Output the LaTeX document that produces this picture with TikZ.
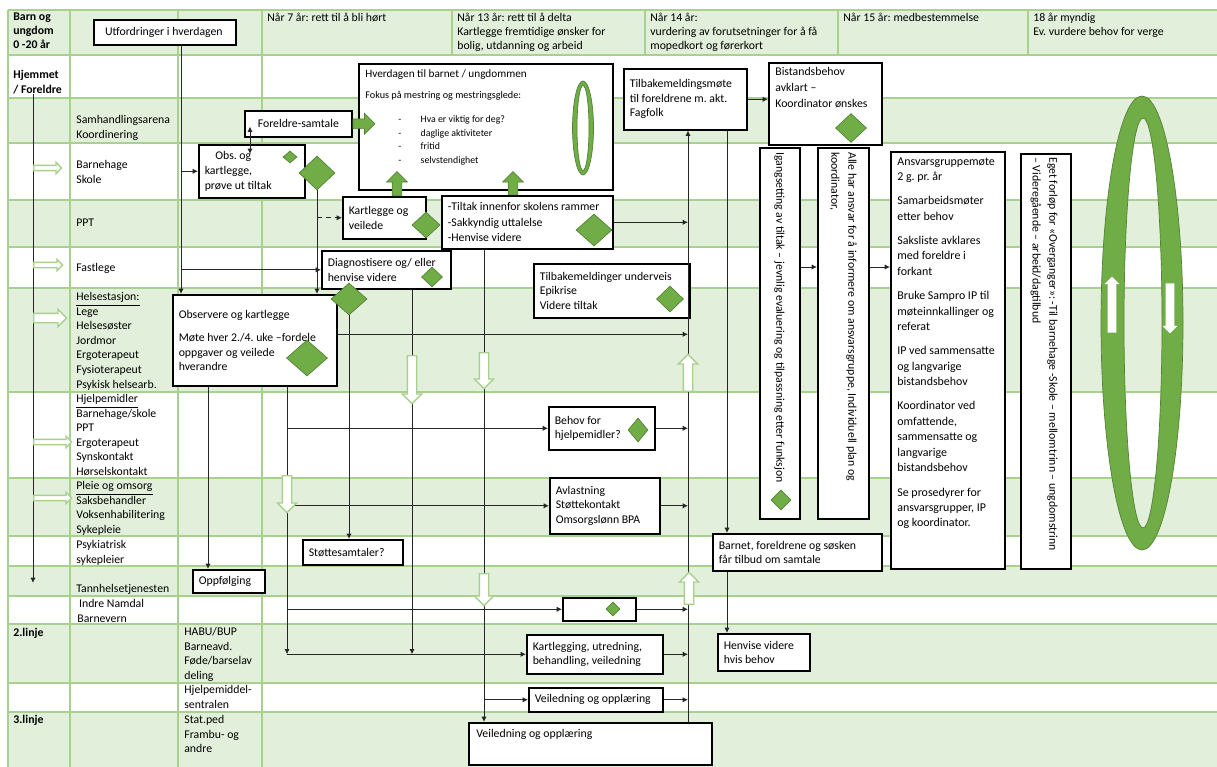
\documentclass[tikz,border=0pt]{standalone}
\usepackage{fontspec}
\setmainfont{Carlito}
\usetikzlibrary{shapes.geometric, shapes.arrows, arrows.meta}

\definecolor{radgronn}{RGB}{226,239,218}
\definecolor{linjegronn}{RGB}{169,209,142}
\definecolor{rutergronn}{RGB}{112,173,71}
\definecolor{rutekant}{RGB}{84,130,53}
\frenchspacing

\begin{document}
\begin{tikzpicture}[x=0.02cm, y=-0.02cm, >={Latex[length=3pt, width=3pt]},
  font=\fontsize{6.7}{8.3}\selectfont,
  tekst/.style = {anchor=north west, inner sep=0pt, align=flush left},
  hode/.style = {tekst, font=\fontsize{6.7}{7.9}\selectfont},
  boks/.style = {draw, line width=0.9pt, fill=white, anchor=north west, inner xsep=0.12cm, inner ysep=0pt, align=flush left},
  ruter/.style = {diamond, fill=rutergronn, draw=rutekant, line width=0.4pt, inner sep=0pt},
  pil/.style = {line width=0.55pt, black!85},
  gitter/.style = {linjegronn, line width=1.2pt},
  hulpil/.style = {single arrow, draw=linjegronn, line width=0.8pt, fill=white, inner xsep=0pt, inner ysep=0.08cm, single arrow head extend=0.1cm, anchor=tail},
  tynnpil/.style = {hulpil, inner ysep=0.04cm, single arrow head extend=0.06cm},
  blokkpil/.style = {single arrow, draw=rutekant, line width=0.4pt, fill=rutergronn, inner xsep=0pt, inner ysep=0.09cm, single arrow head extend=0.11cm, anchor=tail},
  hvitpil/.style = {single arrow, fill=white, inner xsep=0pt, inner ysep=0.08cm, single arrow head extend=0.06cm, anchor=tail}]

\fill[white] (0,0) rectangle (1217,767);
\useasboundingbox (0,0) rectangle (1217,767);

% tabellen
\foreach \ya/\yb in {10/55, 98/143, 200/247, 288/392, 478/536, 566/596, 624/683, 712/767}
  \fill[radgronn] (8,\ya) rectangle (1217,\yb);
\foreach \y in {10, 55, 98, 143, 200, 247, 288, 392, 478, 536, 566, 596, 624, 683, 712}
  \draw[gitter] (8,\y) -- (1217,\y);
\foreach \x in {8, 70, 178, 262}
  \draw[gitter] (\x,10) -- (\x,767);
\foreach \x in {452, 645, 838, 1028}
  \draw[gitter] (\x,10) -- (\x,55);

% overskrifter
\node[hode, font=\fontsize{6.7}{7.9}\selectfont\bfseries] (barn) at (13,13) {Barn og\\ungdom\\0 -20 år};
\node[hode] (aar7) at (267,13) {Når 7 år: rett til å bli hørt};
\node[hode] (aar13) at (457,13) {Når 13 år: rett til å delta\\Kartlegge fremtidige ønsker for\\bolig, utdanning og arbeid};
\node[hode] (aar14) at (650,13) {Når 14 år:\\vurdering av forutsetninger for å få\\mopedkort og førerkort};
\node[hode] (aar15) at (843,13) {Når 15 år: medbestemmelse};
\node[hode] (aar18) at (1033,13) {18 år myndig\\Ev. vurdere behov for verge};

% venstre kolonner
\node[tekst, font=\fontsize{6.7}{8.5}\selectfont\bfseries] (hjem) at (13,70) {Hjemmet\\/ Foreldre};
\node[tekst, font=\fontsize{6.7}{8.3}\selectfont\bfseries] (linje2) at (13,628) {2.linje};
\node[tekst, font=\fontsize{6.7}{8.3}\selectfont\bfseries] (linje3) at (13,715) {3.linje};

\node[tekst] (sam) at (76,115) {Samhandlingsarena\\Koordinering};
\node[tekst] (bhg) at (76,160) {Barnehage\\Skole};
\node[tekst] (ppt) at (76,219) {PPT};
\node[tekst] (fast) at (76,263) {Fastlege};
\node[tekst] (helse) at (76,292) {\underline{Helsestasjon:}\\Lege\\Helsesøster\\Jordmor\\Ergoterapeut\\Fysioterapeut\\Psykisk helsearb.};
\node[tekst] (hjelp) at (76,394) {\underline{Hjelpemidler}\\Barnehage/skole\\PPT\\Ergoterapeut\\Synskontakt\\Hørselskontakt};
\node[tekst] (pleie) at (76,481) {\underline{Pleie og omsorg}\\Saksbehandler\\Voksenhabilitering\\Sykepleie};
\node[tekst] (psyk) at (76,540) {Psykiatrisk\\sykepleier};
\node[tekst] (tann) at (76,584) {Tannhelsetjenesten};
\node[tekst] (bv) at (77,599) {\hspace*{1pt}Indre Namdal\\Barnevern};

\node[tekst] (habu) at (184,627) {HABU/BUP\\Barneavd.\\Føde/barselav\\deling};
\node[tekst] (hms) at (184,685) {Hjelpemiddel-\\sentralen};
\node[tekst] (stat) at (184,715) {Stat.ped\\Frambu- og\\andre};

% bokser
\node[boks, text width=2.6cm, minimum height=0.5cm] (utf) at (93,19) {\hspace*{3pt}Utfordringer i hverdagen};
\node[boks, text width=1.9cm, minimum height=0.52cm] (fs) at (244,110) {\hspace*{4pt}Foreldre-samtale};
\node[boks, text width=1.88cm, minimum height=1.06cm] (obs) at (198,144) {\hspace*{6pt}Obs. og\\kartlegge,\\prøve ut tiltak};
\node[boks, minimum width=5.08cm, minimum height=2.52cm] (hv) at (358,63) {};
\node[boks, text width=1.42cm, minimum height=0.84cm] (kv) at (342,196) {Kartlegge og\\veilede};
\node[boks, text width=3.18cm, minimum height=1.06cm, font=\fontsize{6.7}{8.9}\selectfont] (tiltak) at (441,195) {-Tiltak innenfor skolens rammer\\-Sakkyndig uttalelse\\-Henvise videre};
\node[boks, text width=2.22cm, minimum height=1.22cm] (tbm) at (623,68) {Tilbakemeldingsmøte\\til foreldrene m. akt.\\Fagfolk};
\node[boks, minimum width=2.26cm, minimum height=1.64cm] (bist) at (768,62) {};
\node[boks, text width=2.34cm, minimum height=0.76cm] (diag) at (321,250) {Diagnostisere og/ eller\\henvise videre};
\node[boks, text width=2.88cm, minimum height=1.08cm] (tbu) at (533,263) {Tilbakemeldinger underveis\\Epikrise\\Videre tiltak};
\node[boks, text width=3.04cm, minimum height=1.82cm] (observ) at (172,294) {Observere og kartlegge\\[5pt]Møte hver 2./4. uke –fordele\\oppgaver og veilede\\hverandre};
\node[boks, text width=1.88cm, minimum height=0.86cm] (behov) at (548,406) {Behov for\\hjelpemidler?};
\node[boks, text width=1.96cm, minimum height=1.12cm] (avl) at (549,477) {Avlastning\\Støttekontakt\\Omsorgslønn BPA};
\node[boks, text width=1.76cm, minimum height=0.5cm] (stotte) at (302,539) {Støttesamtaler?};
\node[boks, text width=1.2cm, minimum height=0.46cm] (oppf) at (192,569) {Oppfølging};
\node[boks, minimum width=1.46cm, minimum height=0.46cm] (tom) at (562,597) {};
\node[boks, text width=2.48cm, minimum height=0.78cm] (kart) at (526,634) {Kartlegging, utredning,\\behandling, veiledning};
\node[boks, text width=2.44cm, minimum height=0.48cm] (vos) at (528,687) {Veiledning og opplæring};
\node[boks, minimum width=4.86cm, minimum height=0.84cm] (vob) at (468,722) {};
\node[boks, text width=3.14cm, minimum height=0.74cm] (barnet) at (712,533) {Barnet, foreldrene og søsken\\får tilbud om samtale};
\node[boks, text width=1.6cm, minimum height=0.74cm] (henv) at (717,633) {Henvise videre\\hvis behov};
\node[boks, minimum width=0.8cm, minimum height=7.42cm] (igang) at (759,147) {};
\node[boks, minimum width=1.02cm, minimum height=7.42cm] (alle) at (817,147) {};
\node[boks, minimum width=2.28cm, minimum height=8.34cm] (ansv) at (890,151) {};
\node[boks, minimum width=1.0cm, minimum height=8.3cm] (eget) at (1020,153) {};

% tekst i de store boksene
\node[tekst, font=\fontsize{6.4}{8}\selectfont] (hvtittel) at (365,69) {Hverdagen til barnet / ungdommen};
\node[tekst, font=\fontsize{5.8}{7}\selectfont] (hvfokus) at (365,91) {Fokus på mestring og mestringsglede:};
\node[tekst, font=\fontsize{5.6}{7.9}\selectfont] (hvliste) at (398,115) {-\hspace{11pt}Hva er viktig for deg?\\-\hspace{11pt}daglige aktiviteter\\-\hspace{11pt}fritid\\-\hspace{11pt}selvstendighet};
\node[tekst, font=\fontsize{6.7}{9}\selectfont] (bisttekst) at (775,67) {Bistandsbehov\\avklart –\\Koordinator ønskes};
\node[tekst] (vobtekst) at (476,729) {Veiledning og opplæring};
\node[tekst, font=\fontsize{6.8}{8.8}\selectfont] (ansvtekst) at (897,157) {Ansvarsgruppemøte\\2 g. pr. år\\[5pt]Samarbeidsmøter\\etter behov\\[5pt]Saksliste avklares\\med foreldre i\\forkant\\[5pt]Bruke Sampro IP til\\møteinnkallinger og\\referat\\[5pt]IP ved sammensatte\\og langvarige\\bistandsbehov\\[5pt]Koordinator ved\\omfattende,\\sammensatte og\\langvarige\\bistandsbehov\\[5pt]Se prosedyrer for\\ansvarsgrupper, IP\\og koordinator.};
\node[tekst, rotate=-90] (igangtekst) at (785,152) {Igangsetting av tiltak – jevnlig evaluering og tilpassning etter funksjon};
\node[tekst, rotate=-90, font=\fontsize{6.7}{9.6}\selectfont] (alletekst) at (857,152) {Alle har ansvar for å informere om ansvarsgruppe, Individuell plan og\\koordinator,};
\node[tekst, rotate=-90, font=\fontsize{6.7}{9.6}\selectfont] (egettekst) at (1058,157) {Eget forløp for «Overganger»: -Til barnehage -Skole – mellomtrinn – ungdomstrinn\\– Videregående – arbeid/dagtilbud};

% linjer (x for de loddrette)
\coordinate (xa) at (181,0);
\coordinate (xb) at (208,0);
\coordinate (xc) at (287,0);
\coordinate (xf) at (412,0);
\coordinate (xg) at (484,0);
\coordinate (xh) at (688,0);
\coordinate (xi) at (727,0);
\coordinate (xk) at (250,0);
\coordinate (ya) at (0,267);
\coordinate (vslutt) at (33,583);

\draw[pil, ->] (hjem.south -| vslutt) -- (vslutt);
\draw[pil, ->] (utf.south -| xa) -- (observ.north -| xa);
\draw[pil, ->] (obs.west -| xa) -- (obs.west);
\draw[pil, ->] (diag.west -| xa) -- (diag.west);
\draw[pil, <->] ([yshift=0.22cm]fs.south -| xk) -- ([yshift=-0.2cm]obs.north -| xk);
\draw[pil, ->] (observ.south -| xb) -- (oppf.north -| xb);
\draw[pil, ->] (observ.south -| xc) -- (kart.west -| xc);
\draw[pil, ->] (diag.south -| xf) -- (kart.west -| xf);
\draw[pil, ->] (kart.west -| xc) -- (kart.west);
\draw[pil, ->] (behov.west -| xc) -- (behov.west);
\draw[pil, ->] (avl.west -| xc) -- (avl.west);
\draw[pil, ->] (tom.west -| xc) -- (tom.west);
\draw[pil, ->] (tiltak.south -| xg) -- (vob.north -| xg);
\draw[pil, ->] (vos.west -| xg) -- (vos.west);
\draw[pil, ->] ([yshift=0.12cm]observ.east) -- ([yshift=0.12cm]observ.east -| xh);
\draw[pil, ->] (tiltak.east) -- (tiltak.east -| xh);
\draw[pil, ->] (behov.east) -- (behov.east -| xh);
\draw[pil, ->] (avl.east) -- (avl.east -| xh);
\draw[pil, ->] (tom.east) -- (tom.east -| xh);
\draw[pil, ->] (kart.east) -- (kart.east -| xh);
\draw[pil, ->] (vos.east) -- (vos.east -| xh);
\draw[pil, ->] (vob.north -| xh) -- (tbm.south -| xh);
\draw[pil, ->] (tbm.south -| xi) -- (barnet.north -| xi);
\draw[pil, ->] (barnet.south -| xi) -- (henv.north -| xi);
\draw[pil, ->] (tbm.east) -- (tbm.east -| bist.west);
\draw[pil, ->] (igang.east |- ya) -- (alle.west |- ya);
\draw[pil, ->] (alle.east |- ya) -- (ansv.west |- ya);

% ruter
\node[ruter, minimum width=0.28cm, minimum height=0.24cm] (r1) at (290,157) {};
\node[ruter, minimum width=0.72cm, minimum height=0.68cm] (r2) at (317,173) {};
\node[ruter, minimum width=0.56cm, minimum height=0.52cm] (r3) at (426,225) {};
\node[ruter, minimum width=0.72cm, minimum height=0.64cm] (r4) at (594,230) {};
\node[ruter, minimum width=0.62cm, minimum height=0.58cm] (r5) at (851,128) {};
\node[ruter, minimum width=0.42cm, minimum height=0.40cm] (r6) at (432,277) {};
\node[ruter, minimum width=0.72cm, minimum height=0.64cm] (r7) at (349,299) {};
\node[ruter, minimum width=0.82cm, minimum height=0.72cm] (r8) at (307,358) {};
\node[ruter, minimum width=0.54cm, minimum height=0.52cm] (r9) at (670,299) {};
\node[ruter, minimum width=0.40cm, minimum height=0.48cm] (r10) at (638,430) {};
\node[ruter, minimum width=0.28cm, minimum height=0.28cm] (r11) at (613,609) {};
\node[ruter, minimum width=0.40cm, minimum height=0.40cm] (r12) at (781,500) {};

\draw[pil, ->] (r2.south) -- (observ.north -| r2.south);
\draw[pil, densely dashed, ->] (kv.west -| r2.south) -- (kv.west);
\draw[pil, ->] (r7.south) -- (stotte.north -| r7.south);

% gronne blokkpiler
\node[blokkpil, minimum height=0.44cm] (g1) at (fs.east) {};
\node[blokkpil, rotate=90, minimum height=0.48cm] (g2) at (397,196) {};
\node[blokkpil, rotate=90, minimum height=0.46cm] (g3) at (513,195) {};

% hule piler
\node[tynnpil, minimum height=0.56cm] (v1) at (33,168) {};
\node[tynnpil, minimum height=0.58cm] (v2) at (33,265) {};
\node[hulpil, minimum height=0.66cm, single arrow head extend=0.08cm] (v3) at (33,318) {};
\node[tynnpil, minimum height=0.76cm] (v4) at (33,442) {};
\node[tynnpil, minimum height=0.76cm] (v5) at (33,498) {};
\node[hulpil, rotate=-90, minimum height=0.96cm] (p6) at (412,355) {};
\node[hulpil, rotate=-90, minimum height=0.72cm] (p7) at (484,352) {};
\node[hulpil, rotate=-90, minimum height=0.74cm] (p8) at (287,475) {};
\node[hulpil, rotate=-90, minimum height=0.64cm] (p9) at (484,573) {};
\node[hulpil, rotate=90, minimum height=0.74cm] (p10) at (688,392) {};
\node[hulpil, rotate=90, minimum height=0.64cm] (p11) at (689,605) {};

% ringene
\filldraw[fill=rutergronn, draw=rutekant, line width=0.4pt, even odd rule]
  (583,128) ellipse [x radius=0.21cm, y radius=0.94cm]
  (583,128) ellipse [x radius=0.12cm, y radius=0.85cm];
\filldraw[fill=rutergronn, draw=rutekant, line width=0.4pt, even odd rule]
  (1142,323) ellipse [x radius=0.82cm, y radius=4.54cm]
  (1143,323) ellipse [x radius=0.38cm, y radius=4.1cm];
\node[hvitpil, rotate=90, minimum height=1.12cm] (w1) at (1112,333) {};
\node[hvitpil, rotate=-90, minimum height=1.0cm] (w2) at (1170,283) {};
\end{tikzpicture}
\end{document}
